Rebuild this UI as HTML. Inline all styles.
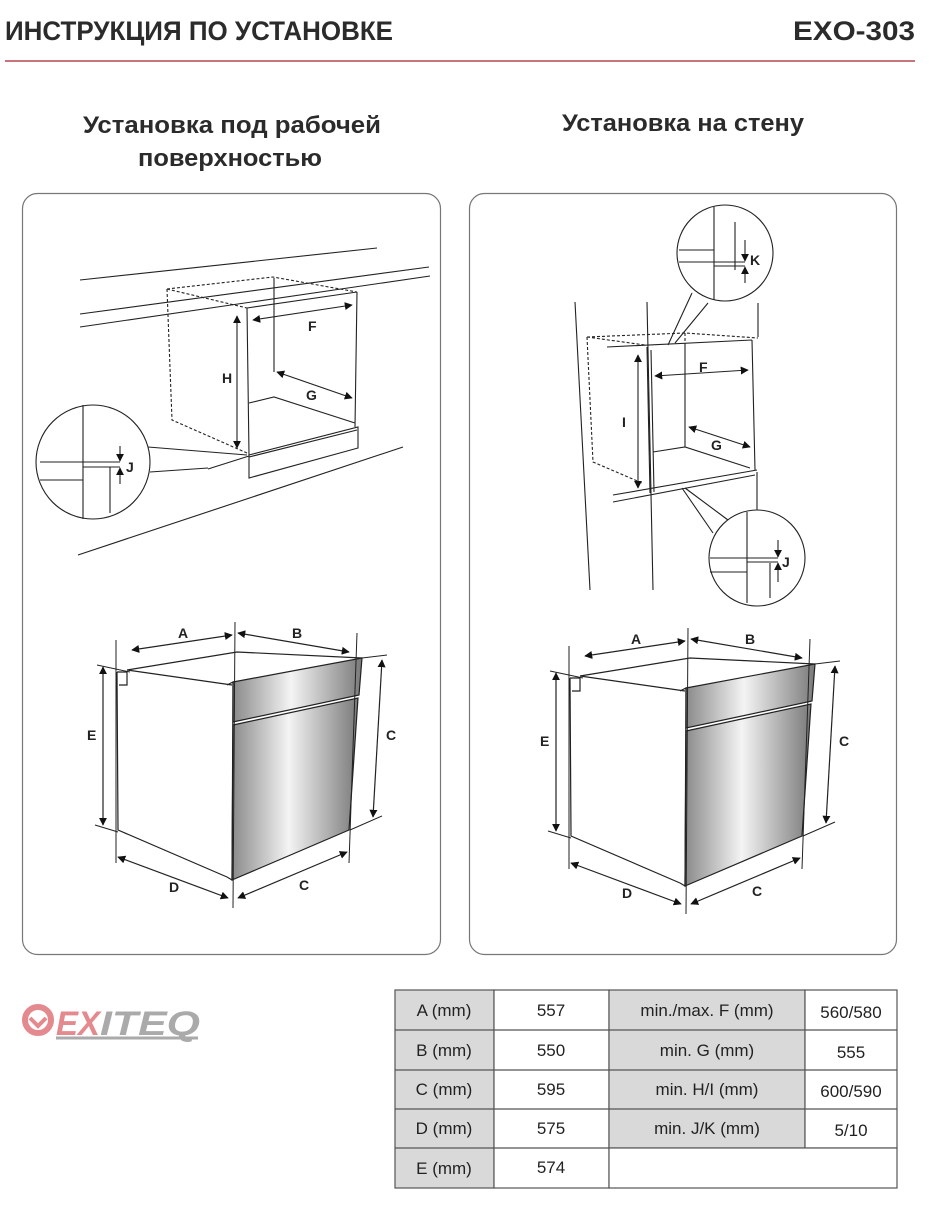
<!DOCTYPE html>
<html><head><meta charset="utf-8"><style>
body{margin:0;background:#fff;width:933px;height:1213px;overflow:hidden}
svg{display:block}
.t{font-family:"Liberation Sans Narrow","Liberation Sans",sans-serif;font-weight:bold;fill:#2b2b2b}
.l{font-family:"Liberation Sans",sans-serif;font-weight:bold;fill:#222;font-size:14px}
.tb{font-family:"Liberation Sans Narrow","Liberation Sans",sans-serif;fill:#222;font-size:17px}
</style></head><body>
<svg width="933" height="1213" viewBox="0 0 933 1213" xmlns="http://www.w3.org/2000/svg">
<defs>
<marker id="a" viewBox="0 0 10 10" refX="9" refY="5" markerWidth="8" markerHeight="8" markerUnits="userSpaceOnUse" orient="auto-start-reverse"><path d="M0,0L10,5L0,10z" fill="#111"/></marker>
<linearGradient id="g" x1="0" x2="1" y1="0" y2="0"><stop offset="0" stop-color="#8a8a8a"/><stop offset="0.45" stop-color="#f4f4f4"/><stop offset="1" stop-color="#7a7a7a"/></linearGradient>
<g id="oven" fill="none" stroke="#222" stroke-width="1.2">
<path d="M127,670 L237,652 L362,658"/>
<path d="M127,670 L232,685"/>
<path d="M117,672 L118,830 L227,877"/>
<path d="M117,672 L127,672 L127,685 L119,685"/>
<path d="M233,682 L362,658 L359,695 L233,722 Z" fill="url(#g)"/>
<path d="M233,725 L358,698 L349,830 L232,880 Z" fill="url(#g)"/>
<path d="M227,685 L233,682 L232,880 L227,877"/>
<path d="M116,640 L116,863 M235,622 L233,908 M357,633 L349,863" stroke-width="1"/>
<path d="M97,665 L130,672 M362,658 L387,655 M95,825 L118,832 M350,830 L382,816" stroke-width="1"/>
<path d="M132,650 L232,635" marker-start="url(#a)" marker-end="url(#a)"/>
<path d="M238,633 L349,652" marker-start="url(#a)" marker-end="url(#a)"/>
<path d="M103,667 L103,825" marker-start="url(#a)" marker-end="url(#a)"/>
<path d="M382,660 L373,817" marker-start="url(#a)" marker-end="url(#a)"/>
<path d="M118,857 L228,898" marker-start="url(#a)" marker-end="url(#a)"/>
<path d="M238,898 L347,852" marker-start="url(#a)" marker-end="url(#a)"/>
<text class="l" x="178" y="638" stroke="none">A</text>
<text class="l" x="292" y="638" stroke="none">B</text>
<text class="l" x="87" y="740" stroke="none">E</text>
<text class="l" x="386" y="740" stroke="none">C</text>
<text class="l" x="169" y="892" stroke="none">D</text>
<text class="l" x="299" y="890" stroke="none">C</text>
</g>
</defs>
<text class="t" x="5" y="40" font-size="27" textLength="388" lengthAdjust="spacingAndGlyphs">ИНСТРУКЦИЯ ПО УСТАНОВКЕ</text>
<text class="t" x="793" y="40" font-size="27" textLength="122" lengthAdjust="spacingAndGlyphs">EXO-303</text>
<line x1="5" y1="61" x2="915" y2="61" stroke="#c9747c" stroke-width="2"/>
<text class="t" x="83" y="133" font-size="24" textLength="298" lengthAdjust="spacingAndGlyphs">Установка под рабочей</text>
<text class="t" x="138" y="166" font-size="24" textLength="184" lengthAdjust="spacingAndGlyphs">поверхностью</text>
<text class="t" x="562" y="131" font-size="24" textLength="242" lengthAdjust="spacingAndGlyphs">Установка на стену</text>
<rect x="22.5" y="193.5" width="418" height="761" rx="15" fill="none" stroke="#777" stroke-width="1.2"/>
<rect x="469.5" y="193.5" width="427" height="761" rx="15" fill="none" stroke="#777" stroke-width="1.2"/>

<!-- left install -->
<g fill="none" stroke="#222" stroke-width="1.1">
<path d="M80,280 L377,248 M80,314 L429,267 M80,327 L430,276 M78,555 L403,447"/>
<path d="M167,289 L273,277 L357,292 M167,289 L247,308 M167,289 L172,420 L247,453" stroke-dasharray="3,2"/>
<path d="M247,308 L249,455 M274,278 L274,372 M357,292 L355,427 M249,403 L274,397 L355,423"/>
<path d="M247,308 L357,292"/>
<path d="M249,455 L358,427 L358,448 L249,478 Z M249,457 L357,430"/>
<path d="M237,316 L237,448" marker-start="url(#a)" marker-end="url(#a)"/>
<path d="M253,320 L352,305" marker-start="url(#a)" marker-end="url(#a)"/>
<path d="M277,372 L352,398" marker-start="url(#a)" marker-end="url(#a)"/>
<path d="M208,469 L249,456"/>
<circle cx="93" cy="462" r="57" fill="#fff"/>
<path d="M148,447 L247,455 M150,472 L208,468"/>
<path d="M83,405 L83,519 M110,467 L110,513 M40,462 L120,462 M40,480 L83,480 M83,467 L120,467"/>
<path d="M120,446 L120,461" marker-end="url(#a)"/><path d="M120,484 L120,468" marker-end="url(#a)"/>
</g>
<text class="l" x="222" y="383">H</text><text class="l" x="308" y="331">F</text><text class="l" x="306" y="400">G</text><text class="l" x="126" y="472">J</text>

<!-- right install -->
<g fill="none" stroke="#222" stroke-width="1.1">
<path d="M575,302 L590,590 M647,302 L653,590 M758,303 L758,337 M757,472 L757,510"/>
<path d="M587,337 L685,333 L758,338 M587,337 L593,462 L642,483 M587,337 L645,345 M685,333 L685,345" stroke-dasharray="3,2"/>
<path d="M607,347 L752,340 M647,347 L650,493 M651,350 L654,492 M752,340 L755,470 M685,345 L685,447 M653,452 L685,447 L750,468"/>
<path d="M613,495 L757,470 M613,502 L755,475"/>
<path d="M638,355 L638,488" marker-start="url(#a)" marker-end="url(#a)"/>
<path d="M655,376 L748,370" marker-start="url(#a)" marker-end="url(#a)"/>
<path d="M689,427 L750,447" marker-start="url(#a)" marker-end="url(#a)"/>
<circle cx="725" cy="253" r="48" fill="#fff"/>
<path d="M692,293 L668,345 M708,303 L675,343"/>
<path d="M714,207 L714,300 M735,222 L735,270 M679,250 L714,250 M679,262 L745,262 M714,266 L745,266"/>
<path d="M745,240 L745,261" marker-end="url(#a)"/><path d="M745,283 L745,267" marker-end="url(#a)"/>
<circle cx="757" cy="558" r="48" fill="#fff"/>
<path d="M682,488 L713,533 M685,488 L728,520"/>
<path d="M747,512 L747,603 M770,563 L770,598 M710,558 L778,558 M710,572 L747,572 M747,562 L778,562"/>
<path d="M778,540 L778,557" marker-end="url(#a)"/><path d="M778,582 L778,563" marker-end="url(#a)"/>
</g>
<text class="l" x="622" y="427">I</text><text class="l" x="699" y="372">F</text><text class="l" x="711" y="450">G</text>
<text class="l" x="750" y="265">K</text><text class="l" x="782" y="567">J</text>

<use href="#oven"/>
<use href="#oven" transform="translate(453,6)"/>

<!-- logo -->
<g>
<circle cx="38" cy="1020" r="13" fill="none" stroke="#e48a8f" stroke-width="6"/>
<path d="M30,1018 L38,1026 L46,1018" fill="none" stroke="#e48a8f" stroke-width="4"/>
<text x="56" y="1035" font-family="Liberation Sans,sans-serif" font-weight="bold" font-style="italic" font-size="34" fill="#e48a8f" textLength="44" lengthAdjust="spacingAndGlyphs">EX</text>
<text x="100" y="1035" font-family="Liberation Sans,sans-serif" font-weight="bold" font-style="italic" font-size="34" fill="#aaa" textLength="100" lengthAdjust="spacingAndGlyphs">ITEQ</text>
<line x1="56" y1="1038" x2="198" y2="1038" stroke="#aaa" stroke-width="3"/>
</g>

<!-- table -->
<g stroke="#555" stroke-width="1.2">
<rect x="395" y="990" width="99" height="198" fill="#d9d9d9"/>
<rect x="494" y="990" width="115" height="198" fill="#fff"/>
<rect x="609" y="990" width="196" height="158" fill="#d9d9d9"/>
<rect x="805" y="990" width="92" height="158" fill="#fff"/>
<rect x="609" y="1148" width="288" height="40" fill="#fff"/>
<path d="M395,1030H897M395,1070H897M395,1109H897M395,1148H609" fill="none"/>
</g>
<g class="tb" text-anchor="middle">
<text x="444" y="1016">A (mm)</text><text x="551" y="1016">557</text><text x="707" y="1016">min./max. F (mm)</text><text x="851" y="1018">560/580</text>
<text x="444" y="1056">B (mm)</text><text x="551" y="1056">550</text><text x="707" y="1056">min. G (mm)</text><text x="851" y="1058">555</text>
<text x="444" y="1095">C (mm)</text><text x="551" y="1095">595</text><text x="707" y="1095">min. H/I (mm)</text><text x="851" y="1097">600/590</text>
<text x="444" y="1134">D (mm)</text><text x="551" y="1134">575</text><text x="707" y="1134">min. J/K (mm)</text><text x="851" y="1136">5/10</text>
<text x="444" y="1174">E (mm)</text><text x="551" y="1173">574</text>
</g>
</svg>
</body></html>
